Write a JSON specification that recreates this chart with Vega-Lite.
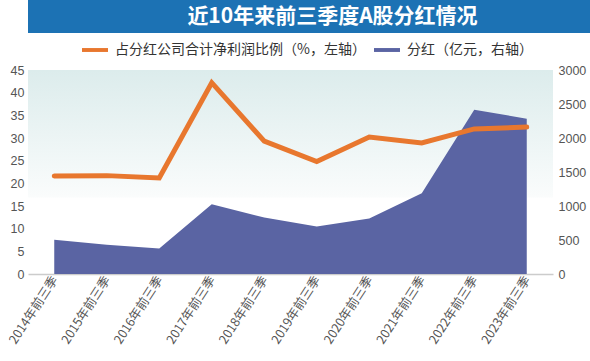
{
  "$schema": "https://vega.github.io/schema/vega-lite/v6.json",
  "background": "white",
  "padding": {"left": 1, "right": 0, "top": 0, "bottom": 0},
  "columns": 1,
  "align": "none",
  "spacing": 4,
  "resolve": {"legend": {"color": "independent"}},
  "config": {
    "font": "Noto Sans CJK SC",
    "view": {"stroke": null},
    "axis": {"labelColor": "#555555", "labelFontSize": 12.5, "grid": false, "ticks": false, "title": null, "labelFont": "Liberation Sans"}
  },
  "datasets": {
    "main": [
      {"label": "2014年前三季", "ratio": 21.6, "dividend": 502},
      {"label": "2015年前三季", "ratio": 21.7, "dividend": 429},
      {"label": "2016年前三季", "ratio": 21.2, "dividend": 376},
      {"label": "2017年前三季", "ratio": 42.2, "dividend": 1025},
      {"label": "2018年前三季", "ratio": 29.3, "dividend": 830},
      {"label": "2019年前三季", "ratio": 24.8, "dividend": 698},
      {"label": "2020年前三季", "ratio": 30.2, "dividend": 815},
      {"label": "2021年前三季", "ratio": 28.9, "dividend": 1186},
      {"label": "2022年前三季", "ratio": 32.0, "dividend": 2416},
      {"label": "2023年前三季", "ratio": 32.4, "dividend": 2284}
    ],
    "title": [{"t": "近10年来前三季度A股分红情况"}]
  },
  "concat": [
    {
      "width": 589,
      "height": 33,
      "view": {"fill": "#1c72b4", "stroke": null},
      "data": {"name": "title"},
      "mark": {"type": "text", "color": "white", "fontSize": 21, "fontWeight": "bold", "font": "Noto Sans CJK SC", "dx": 10},
      "encoding": {"text": {"field": "t"}}
    },
    {
      "width": 525,
      "height": 204,
      "view": {"stroke": null, "fill": {"gradient": "linear", "x1": 0, "y1": 0, "x2": 0, "y2": 1, "stops": [{"offset": 0, "color": "#dcecec"}, {"offset": 0.62, "color": "#fafcfc"}, {"offset": 0.63, "color": "#ffffff"}]}},
      "data": {"name": "main"},
      "layer": [
        {
          "mark": {"type": "area", "opacity": 1},
          "encoding": {
            "x": {"field": "label", "type": "ordinal", "sort": null, "scale": {"type": "point", "padding": 0.5},
                  "axis": {"labelAngle": -57, "domainColor": "#cccccc", "domainWidth": 1.5, "labelFontSize": 12.5, "labelColor": "#555555", "labelFont": "Noto Sans CJK SC", "labelPadding": 3}},
            "y": {"field": "dividend", "type": "quantitative", "scale": {"domain": [0, 3000]},
                  "axis": {"orient": "right", "values": [0, 500, 1000, 1500, 2000, 2500, 3000], "format": "d", "domain": false, "labelPadding": 5}},
            "color": {"datum": "分红（亿元，右轴）", "type": "nominal",
                      "scale": {"domain": ["占分红公司合计净利润比例（%，左轴）", "分红（亿元，右轴）"], "range": ["#e8772e", "#5a64a3"]},
                      "legend": {"orient": "none", "legendX": 54, "legendY": -33, "title": null, "direction": "horizontal", "labelFontSize": 14, "labelColor": "#333333", "labelLimit": 400,
                                 "symbolType": "M-1,-0.15H1V0.15H-1Z", "symbolSize": 676, "symbolStrokeWidth": 0, "columnPadding": 8, "labelOffset": 7,
                                 "encode": {"symbols": {"update": {"shape": {"signal": "datum.value === '分红（亿元，右轴）' ? 'M-1,-0.25H1V0.25H-1Z' : 'M-1,-0.12H1V0.12H-1Z'"}}}}}}
          }
        },
        {
          "mark": {"type": "line", "strokeWidth": 5, "strokeCap": "round"},
          "encoding": {
            "x": {"field": "label", "type": "ordinal", "sort": null},
            "y": {"field": "ratio", "type": "quantitative", "scale": {"domain": [0, 45]},
                  "axis": {"orient": "left", "values": [0, 5, 10, 15, 20, 25, 30, 35, 40, 45], "domain": false, "labelPadding": 4,
                           "title": "|", "titleOpacity": 0, "titleFontSize": 5, "titlePadding": 4}},
            "color": {"datum": "占分红公司合计净利润比例（%，左轴）", "type": "nominal"}
          }
        }
      ],
      "resolve": {"scale": {"y": "independent"}}
    }
  ]
}
